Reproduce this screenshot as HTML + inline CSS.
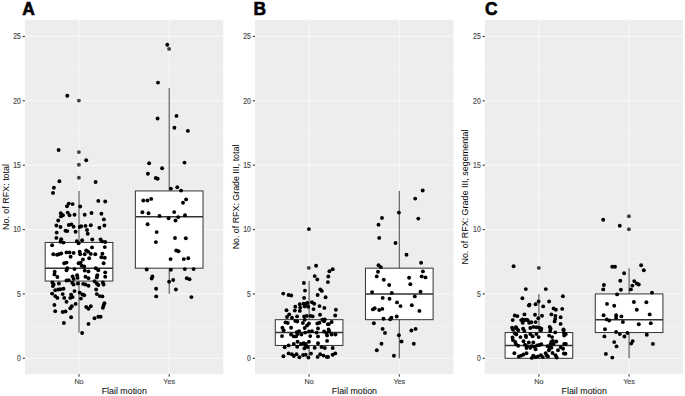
<!DOCTYPE html>
<html><head><meta charset="utf-8"><style>
html,body{margin:0;padding:0;background:#fff;width:685px;height:396px;overflow:hidden}
svg{display:block}
text{font-family:"Liberation Sans",sans-serif}
.tk{font-size:7.0px;fill:#4a4a4a;stroke:#4a4a4a;stroke-width:0.15px}
.ti{font-size:8.6px;fill:#000}
.lb{font-size:17.4px;font-weight:bold;fill:#000;stroke:#000;stroke-width:0.6px}
</style></head><body>
<svg width="685" height="396" viewBox="0 0 685 396">
<rect width="685" height="396" fill="#fff"/>
<rect x="24.90" y="19.9" width="198.4" height="354.20000000000005" fill="#EDEDED"/>
<line x1="24.90" x2="223.30" y1="326.11" y2="326.11" stroke="#fafafa" stroke-width="0.45"/>
<line x1="24.90" x2="223.30" y1="261.74" y2="261.74" stroke="#fafafa" stroke-width="0.45"/>
<line x1="24.90" x2="223.30" y1="197.36" y2="197.36" stroke="#fafafa" stroke-width="0.45"/>
<line x1="24.90" x2="223.30" y1="132.99" y2="132.99" stroke="#fafafa" stroke-width="0.45"/>
<line x1="24.90" x2="223.30" y1="68.61" y2="68.61" stroke="#fafafa" stroke-width="0.45"/>
<line x1="24.90" x2="223.30" y1="358.30" y2="358.30" stroke="#fafafa" stroke-width="0.9"/>
<line x1="24.90" x2="223.30" y1="293.93" y2="293.93" stroke="#fafafa" stroke-width="0.9"/>
<line x1="24.90" x2="223.30" y1="229.55" y2="229.55" stroke="#fafafa" stroke-width="0.9"/>
<line x1="24.90" x2="223.30" y1="165.18" y2="165.18" stroke="#fafafa" stroke-width="0.9"/>
<line x1="24.90" x2="223.30" y1="100.80" y2="100.80" stroke="#fafafa" stroke-width="0.9"/>
<line x1="24.90" x2="223.30" y1="36.43" y2="36.43" stroke="#fafafa" stroke-width="0.9"/>
<line x1="79.01" x2="79.01" y1="19.9" y2="374.1" stroke="#fafafa" stroke-width="0.9"/>
<line x1="169.19" x2="169.19" y1="19.9" y2="374.1" stroke="#fafafa" stroke-width="0.9"/>
<line x1="79.01" x2="79.01" y1="190.93" y2="242.43" stroke="#444" stroke-width="1.0"/>
<line x1="79.01" x2="79.01" y1="281.05" y2="332.55" stroke="#444" stroke-width="1.0"/>
<rect x="45.19" y="242.43" width="67.64" height="38.62" fill="#fff" stroke="#333" stroke-width="1.0"/>
<line x1="45.19" x2="112.83" y1="268.18" y2="268.18" stroke="#333" stroke-width="1.5"/>
<line x1="169.19" x2="169.19" y1="87.93" y2="190.93" stroke="#444" stroke-width="1.0"/>
<line x1="169.19" x2="169.19" y1="268.18" y2="293.93" stroke="#444" stroke-width="1.0"/>
<rect x="135.37" y="190.93" width="67.64" height="77.25" fill="#fff" stroke="#333" stroke-width="1.0"/>
<line x1="135.37" x2="203.01" y1="216.68" y2="216.68" stroke="#333" stroke-width="1.5"/>
<circle cx="78.9" cy="100.6" r="1.95" fill="#3d3d3d"/>
<circle cx="78.9" cy="152.1" r="1.95" fill="#3d3d3d"/>
<circle cx="78.9" cy="164.8" r="1.95" fill="#3d3d3d"/>
<circle cx="78.9" cy="177.7" r="1.95" fill="#3d3d3d"/>
<circle cx="169.1" cy="48.9" r="1.95" fill="#3d3d3d"/>
<circle cx="67.3" cy="95.8" r="1.95"/>
<circle cx="58.6" cy="150.0" r="1.95"/>
<circle cx="86.2" cy="160.2" r="1.95"/>
<circle cx="59.4" cy="181.2" r="1.95"/>
<circle cx="95.6" cy="182.0" r="1.95"/>
<circle cx="53.9" cy="187.7" r="1.95"/>
<circle cx="53.0" cy="192.9" r="1.95"/>
<circle cx="98.3" cy="200.9" r="1.95"/>
<circle cx="105.2" cy="201.5" r="1.95"/>
<circle cx="68.8" cy="203.6" r="1.95"/>
<circle cx="72.6" cy="204.1" r="1.95"/>
<circle cx="67.0" cy="206.2" r="1.95"/>
<circle cx="80.2" cy="206.5" r="1.95"/>
<circle cx="60.8" cy="213.3" r="1.95"/>
<circle cx="63.0" cy="215.3" r="1.95"/>
<circle cx="60.9" cy="216.4" r="1.95"/>
<circle cx="67.7" cy="212.6" r="1.95"/>
<circle cx="69.5" cy="215.3" r="1.95"/>
<circle cx="74.5" cy="214.7" r="1.95"/>
<circle cx="84.7" cy="214.7" r="1.95"/>
<circle cx="91.5" cy="213.0" r="1.95"/>
<circle cx="101.4" cy="213.8" r="1.95"/>
<circle cx="103.9" cy="219.4" r="1.95"/>
<circle cx="58.2" cy="220.5" r="1.95"/>
<circle cx="56.4" cy="225.5" r="1.95"/>
<circle cx="60.5" cy="227.0" r="1.95"/>
<circle cx="68.8" cy="225.0" r="1.95"/>
<circle cx="71.4" cy="224.4" r="1.95"/>
<circle cx="73.6" cy="226.7" r="1.95"/>
<circle cx="79.7" cy="227.0" r="1.95"/>
<circle cx="81.2" cy="226.2" r="1.95"/>
<circle cx="85.5" cy="225.9" r="1.95"/>
<circle cx="90.8" cy="225.2" r="1.95"/>
<circle cx="99.4" cy="227.7" r="1.95"/>
<circle cx="104.4" cy="225.5" r="1.95"/>
<circle cx="65.5" cy="230.8" r="1.95"/>
<circle cx="67.3" cy="231.1" r="1.95"/>
<circle cx="75.6" cy="231.8" r="1.95"/>
<circle cx="87.0" cy="230.0" r="1.95"/>
<circle cx="87.7" cy="233.8" r="1.95"/>
<circle cx="56.7" cy="232.6" r="1.95"/>
<circle cx="56.4" cy="237.9" r="1.95"/>
<circle cx="61.2" cy="239.2" r="1.95"/>
<circle cx="60.5" cy="241.7" r="1.95"/>
<circle cx="63.5" cy="242.6" r="1.95"/>
<circle cx="76.8" cy="241.1" r="1.95"/>
<circle cx="78.6" cy="243.2" r="1.95"/>
<circle cx="82.1" cy="240.3" r="1.95"/>
<circle cx="92.3" cy="239.5" r="1.95"/>
<circle cx="100.6" cy="239.5" r="1.95"/>
<circle cx="102.1" cy="241.4" r="1.95"/>
<circle cx="105.2" cy="242.0" r="1.95"/>
<circle cx="52.1" cy="245.2" r="1.95"/>
<circle cx="92.0" cy="247.4" r="1.95"/>
<circle cx="104.8" cy="247.1" r="1.95"/>
<circle cx="53.3" cy="254.2" r="1.95"/>
<circle cx="57.0" cy="254.7" r="1.95"/>
<circle cx="58.9" cy="254.2" r="1.95"/>
<circle cx="61.2" cy="253.5" r="1.95"/>
<circle cx="66.5" cy="252.4" r="1.95"/>
<circle cx="69.5" cy="252.4" r="1.95"/>
<circle cx="73.6" cy="252.9" r="1.95"/>
<circle cx="70.6" cy="256.8" r="1.95"/>
<circle cx="79.7" cy="251.7" r="1.95"/>
<circle cx="80.2" cy="254.2" r="1.95"/>
<circle cx="84.7" cy="254.2" r="1.95"/>
<circle cx="86.2" cy="250.5" r="1.95"/>
<circle cx="88.2" cy="251.7" r="1.95"/>
<circle cx="90.8" cy="253.9" r="1.95"/>
<circle cx="89.2" cy="258.3" r="1.95"/>
<circle cx="95.3" cy="254.2" r="1.95"/>
<circle cx="102.4" cy="253.8" r="1.95"/>
<circle cx="101.4" cy="257.3" r="1.95"/>
<circle cx="104.8" cy="257.7" r="1.95"/>
<circle cx="82.9" cy="259.5" r="1.95"/>
<circle cx="64.2" cy="263.3" r="1.95"/>
<circle cx="66.5" cy="262.6" r="1.95"/>
<circle cx="78.6" cy="263.3" r="1.95"/>
<circle cx="80.6" cy="262.6" r="1.95"/>
<circle cx="103.6" cy="263.3" r="1.95"/>
<circle cx="81.7" cy="265.8" r="1.95"/>
<circle cx="84.2" cy="266.4" r="1.95"/>
<circle cx="67.3" cy="268.3" r="1.95"/>
<circle cx="66.5" cy="270.3" r="1.95"/>
<circle cx="74.5" cy="269.1" r="1.95"/>
<circle cx="84.7" cy="270.6" r="1.95"/>
<circle cx="88.5" cy="271.4" r="1.95"/>
<circle cx="95.8" cy="268.3" r="1.95"/>
<circle cx="98.3" cy="270.3" r="1.95"/>
<circle cx="105.2" cy="272.4" r="1.95"/>
<circle cx="54.7" cy="271.8" r="1.95"/>
<circle cx="54.4" cy="274.4" r="1.95"/>
<circle cx="57.4" cy="277.0" r="1.95"/>
<circle cx="72.6" cy="276.4" r="1.95"/>
<circle cx="73.6" cy="278.9" r="1.95"/>
<circle cx="77.1" cy="275.2" r="1.95"/>
<circle cx="77.6" cy="277.9" r="1.95"/>
<circle cx="85.5" cy="276.7" r="1.95"/>
<circle cx="88.5" cy="278.2" r="1.95"/>
<circle cx="97.3" cy="275.2" r="1.95"/>
<circle cx="96.8" cy="277.4" r="1.95"/>
<circle cx="105.2" cy="276.7" r="1.95"/>
<circle cx="52.4" cy="282.4" r="1.95"/>
<circle cx="53.6" cy="284.5" r="1.95"/>
<circle cx="52.9" cy="286.1" r="1.95"/>
<circle cx="58.9" cy="283.5" r="1.95"/>
<circle cx="66.5" cy="280.5" r="1.95"/>
<circle cx="68.8" cy="280.2" r="1.95"/>
<circle cx="72.3" cy="282.7" r="1.95"/>
<circle cx="73.6" cy="284.5" r="1.95"/>
<circle cx="77.9" cy="283.5" r="1.95"/>
<circle cx="83.2" cy="283.9" r="1.95"/>
<circle cx="85.5" cy="284.5" r="1.95"/>
<circle cx="88.5" cy="285.8" r="1.95"/>
<circle cx="94.5" cy="281.2" r="1.95"/>
<circle cx="96.8" cy="283.5" r="1.95"/>
<circle cx="98.3" cy="285.0" r="1.95"/>
<circle cx="102.9" cy="282.4" r="1.95"/>
<circle cx="103.6" cy="284.5" r="1.95"/>
<circle cx="55.2" cy="290.3" r="1.95"/>
<circle cx="58.2" cy="289.5" r="1.95"/>
<circle cx="60.5" cy="289.2" r="1.95"/>
<circle cx="63.5" cy="288.8" r="1.95"/>
<circle cx="52.1" cy="293.6" r="1.95"/>
<circle cx="55.2" cy="296.1" r="1.95"/>
<circle cx="57.4" cy="297.9" r="1.95"/>
<circle cx="62.7" cy="294.1" r="1.95"/>
<circle cx="64.2" cy="297.9" r="1.95"/>
<circle cx="71.1" cy="294.8" r="1.95"/>
<circle cx="72.6" cy="297.1" r="1.95"/>
<circle cx="70.3" cy="297.9" r="1.95"/>
<circle cx="74.5" cy="291.1" r="1.95"/>
<circle cx="79.7" cy="292.6" r="1.95"/>
<circle cx="82.4" cy="294.5" r="1.95"/>
<circle cx="84.2" cy="295.3" r="1.95"/>
<circle cx="80.9" cy="298.6" r="1.95"/>
<circle cx="96.1" cy="289.5" r="1.95"/>
<circle cx="96.8" cy="294.1" r="1.95"/>
<circle cx="99.8" cy="296.1" r="1.95"/>
<circle cx="102.4" cy="296.4" r="1.95"/>
<circle cx="66.5" cy="301.7" r="1.95"/>
<circle cx="54.4" cy="305.0" r="1.95"/>
<circle cx="75.6" cy="303.9" r="1.95"/>
<circle cx="71.8" cy="306.2" r="1.95"/>
<circle cx="70.3" cy="308.2" r="1.95"/>
<circle cx="86.2" cy="307.0" r="1.95"/>
<circle cx="88.5" cy="308.8" r="1.95"/>
<circle cx="90.8" cy="306.2" r="1.95"/>
<circle cx="104.4" cy="303.2" r="1.95"/>
<circle cx="103.6" cy="305.5" r="1.95"/>
<circle cx="102.9" cy="307.7" r="1.95"/>
<circle cx="55.2" cy="311.2" r="1.95"/>
<circle cx="62.7" cy="312.0" r="1.95"/>
<circle cx="65.5" cy="311.5" r="1.95"/>
<circle cx="71.1" cy="317.3" r="1.95"/>
<circle cx="94.5" cy="318.3" r="1.95"/>
<circle cx="98.3" cy="316.8" r="1.95"/>
<circle cx="100.6" cy="316.8" r="1.95"/>
<circle cx="63.9" cy="323.0" r="1.95"/>
<circle cx="88.5" cy="323.9" r="1.95"/>
<circle cx="82.1" cy="333.0" r="1.95"/>
<circle cx="167.3" cy="44.7" r="1.95"/>
<circle cx="158.0" cy="82.6" r="1.95"/>
<circle cx="157.6" cy="118.5" r="1.95"/>
<circle cx="176.5" cy="115.9" r="1.95"/>
<circle cx="174.4" cy="127.7" r="1.95"/>
<circle cx="187.9" cy="130.9" r="1.95"/>
<circle cx="149.1" cy="163.3" r="1.95"/>
<circle cx="184.5" cy="162.6" r="1.95"/>
<circle cx="162.1" cy="168.2" r="1.95"/>
<circle cx="147.9" cy="173.8" r="1.95"/>
<circle cx="155.8" cy="178.0" r="1.95"/>
<circle cx="157.7" cy="178.8" r="1.95"/>
<circle cx="170.9" cy="188.6" r="1.95"/>
<circle cx="177.3" cy="187.3" r="1.95"/>
<circle cx="181.1" cy="190.6" r="1.95"/>
<circle cx="143.3" cy="200.5" r="1.95"/>
<circle cx="147.4" cy="200.5" r="1.95"/>
<circle cx="151.2" cy="198.9" r="1.95"/>
<circle cx="186.1" cy="199.4" r="1.95"/>
<circle cx="183.0" cy="202.7" r="1.95"/>
<circle cx="142.4" cy="212.3" r="1.95"/>
<circle cx="148.5" cy="213.3" r="1.95"/>
<circle cx="159.5" cy="215.9" r="1.95"/>
<circle cx="174.2" cy="212.1" r="1.95"/>
<circle cx="168.6" cy="218.3" r="1.95"/>
<circle cx="175.5" cy="220.5" r="1.95"/>
<circle cx="178.2" cy="217.1" r="1.95"/>
<circle cx="185.0" cy="215.3" r="1.95"/>
<circle cx="147.6" cy="224.2" r="1.95"/>
<circle cx="156.7" cy="232.1" r="1.95"/>
<circle cx="175.0" cy="238.0" r="1.95"/>
<circle cx="185.8" cy="238.3" r="1.95"/>
<circle cx="155.9" cy="242.1" r="1.95"/>
<circle cx="176.2" cy="250.5" r="1.95"/>
<circle cx="178.5" cy="251.2" r="1.95"/>
<circle cx="170.6" cy="259.1" r="1.95"/>
<circle cx="183.8" cy="259.1" r="1.95"/>
<circle cx="188.3" cy="258.3" r="1.95"/>
<circle cx="146.7" cy="269.5" r="1.95"/>
<circle cx="170.9" cy="269.8" r="1.95"/>
<circle cx="184.8" cy="269.1" r="1.95"/>
<circle cx="193.6" cy="269.1" r="1.95"/>
<circle cx="152.4" cy="276.4" r="1.95"/>
<circle cx="151.7" cy="278.5" r="1.95"/>
<circle cx="169.1" cy="281.7" r="1.95"/>
<circle cx="173.2" cy="280.0" r="1.95"/>
<circle cx="186.8" cy="278.2" r="1.95"/>
<circle cx="189.5" cy="279.2" r="1.95"/>
<circle cx="156.1" cy="288.8" r="1.95"/>
<circle cx="175.9" cy="289.5" r="1.95"/>
<circle cx="156.2" cy="296.4" r="1.95"/>
<circle cx="191.4" cy="297.1" r="1.95"/>
<line x1="22.70" x2="24.90" y1="358.30" y2="358.30" stroke="#333" stroke-width="1.1"/>
<text transform="translate(20.80,361.10) scale(0.98,1.24)" class="tk" text-anchor="end">0</text>
<line x1="22.70" x2="24.90" y1="293.93" y2="293.93" stroke="#333" stroke-width="1.1"/>
<text transform="translate(20.80,296.73) scale(0.98,1.24)" class="tk" text-anchor="end">5</text>
<line x1="22.70" x2="24.90" y1="229.55" y2="229.55" stroke="#333" stroke-width="1.1"/>
<text transform="translate(20.80,232.35) scale(0.98,1.24)" class="tk" text-anchor="end">10</text>
<line x1="22.70" x2="24.90" y1="165.18" y2="165.18" stroke="#333" stroke-width="1.1"/>
<text transform="translate(20.80,167.98) scale(0.98,1.24)" class="tk" text-anchor="end">15</text>
<line x1="22.70" x2="24.90" y1="100.80" y2="100.80" stroke="#333" stroke-width="1.1"/>
<text transform="translate(20.80,103.60) scale(0.98,1.24)" class="tk" text-anchor="end">20</text>
<line x1="22.70" x2="24.90" y1="36.43" y2="36.43" stroke="#333" stroke-width="1.1"/>
<text transform="translate(20.80,39.23) scale(0.98,1.24)" class="tk" text-anchor="end">25</text>
<line x1="79.01" x2="79.01" y1="374.1" y2="376.70000000000005" stroke="#333" stroke-width="1.0"/>
<text transform="translate(79.01,383.6) scale(1.03,1.1)" class="tk" text-anchor="middle">No</text>
<line x1="169.19" x2="169.19" y1="374.1" y2="376.70000000000005" stroke="#333" stroke-width="1.0"/>
<text transform="translate(169.19,383.6) scale(1.03,1.1)" class="tk" text-anchor="middle">Yes</text>
<text transform="translate(124.30,394.2) scale(1.03,1.08)" class="ti" text-anchor="middle">Flail motion</text>
<text transform="translate(8.90,197.00) rotate(-90) scale(1.04,1)" class="ti" text-anchor="middle">No. of RFX: total</text>
<text transform="translate(22.20,14.8) scale(1.0,1.07)" class="lb">A</text>
<rect x="255.00" y="19.9" width="198.4" height="354.20000000000005" fill="#EDEDED"/>
<line x1="255.00" x2="453.40" y1="326.11" y2="326.11" stroke="#fafafa" stroke-width="0.45"/>
<line x1="255.00" x2="453.40" y1="261.74" y2="261.74" stroke="#fafafa" stroke-width="0.45"/>
<line x1="255.00" x2="453.40" y1="197.36" y2="197.36" stroke="#fafafa" stroke-width="0.45"/>
<line x1="255.00" x2="453.40" y1="132.99" y2="132.99" stroke="#fafafa" stroke-width="0.45"/>
<line x1="255.00" x2="453.40" y1="68.61" y2="68.61" stroke="#fafafa" stroke-width="0.45"/>
<line x1="255.00" x2="453.40" y1="358.30" y2="358.30" stroke="#fafafa" stroke-width="0.9"/>
<line x1="255.00" x2="453.40" y1="293.93" y2="293.93" stroke="#fafafa" stroke-width="0.9"/>
<line x1="255.00" x2="453.40" y1="229.55" y2="229.55" stroke="#fafafa" stroke-width="0.9"/>
<line x1="255.00" x2="453.40" y1="165.18" y2="165.18" stroke="#fafafa" stroke-width="0.9"/>
<line x1="255.00" x2="453.40" y1="100.80" y2="100.80" stroke="#fafafa" stroke-width="0.9"/>
<line x1="255.00" x2="453.40" y1="36.43" y2="36.43" stroke="#fafafa" stroke-width="0.9"/>
<line x1="309.11" x2="309.11" y1="19.9" y2="374.1" stroke="#fafafa" stroke-width="0.9"/>
<line x1="399.29" x2="399.29" y1="19.9" y2="374.1" stroke="#fafafa" stroke-width="0.9"/>
<line x1="309.11" x2="309.11" y1="281.05" y2="319.68" stroke="#444" stroke-width="1.0"/>
<line x1="309.11" x2="309.11" y1="345.43" y2="358.30" stroke="#444" stroke-width="1.0"/>
<rect x="275.29" y="319.68" width="67.64" height="25.75" fill="#fff" stroke="#333" stroke-width="1.0"/>
<line x1="275.29" x2="342.93" y1="332.55" y2="332.55" stroke="#333" stroke-width="1.5"/>
<line x1="399.29" x2="399.29" y1="190.93" y2="268.18" stroke="#444" stroke-width="1.0"/>
<line x1="399.29" x2="399.29" y1="319.68" y2="358.30" stroke="#444" stroke-width="1.0"/>
<rect x="365.47" y="268.18" width="67.64" height="51.50" fill="#fff" stroke="#333" stroke-width="1.0"/>
<line x1="365.47" x2="433.11" y1="293.93" y2="293.93" stroke="#333" stroke-width="1.5"/>
<circle cx="308.8" cy="267.9" r="1.95" fill="#3d3d3d"/>
<circle cx="308.9" cy="229.1" r="1.95"/>
<circle cx="316.1" cy="265.8" r="1.95"/>
<circle cx="329.4" cy="271.2" r="1.95"/>
<circle cx="332.7" cy="269.2" r="1.95"/>
<circle cx="314.7" cy="276.1" r="1.95"/>
<circle cx="317.3" cy="279.5" r="1.95"/>
<circle cx="328.3" cy="276.5" r="1.95"/>
<circle cx="327.9" cy="282.1" r="1.95"/>
<circle cx="303.9" cy="283.0" r="1.95"/>
<circle cx="305.0" cy="290.6" r="1.95"/>
<circle cx="320.3" cy="289.4" r="1.95"/>
<circle cx="321.8" cy="290.9" r="1.95"/>
<circle cx="283.2" cy="293.6" r="1.95"/>
<circle cx="288.5" cy="295.0" r="1.95"/>
<circle cx="291.2" cy="295.5" r="1.95"/>
<circle cx="317.6" cy="295.0" r="1.95"/>
<circle cx="325.6" cy="297.3" r="1.95"/>
<circle cx="304.1" cy="297.9" r="1.95"/>
<circle cx="312.0" cy="302.3" r="1.95"/>
<circle cx="314.2" cy="303.8" r="1.95"/>
<circle cx="299.8" cy="304.2" r="1.95"/>
<circle cx="303.6" cy="303.8" r="1.95"/>
<circle cx="305.9" cy="303.8" r="1.95"/>
<circle cx="307.4" cy="303.0" r="1.95"/>
<circle cx="295.3" cy="306.8" r="1.95"/>
<circle cx="294.8" cy="310.6" r="1.95"/>
<circle cx="300.2" cy="307.6" r="1.95"/>
<circle cx="299.8" cy="310.9" r="1.95"/>
<circle cx="304.7" cy="306.4" r="1.95"/>
<circle cx="308.2" cy="306.8" r="1.95"/>
<circle cx="313.5" cy="309.1" r="1.95"/>
<circle cx="319.5" cy="306.1" r="1.95"/>
<circle cx="324.4" cy="307.9" r="1.95"/>
<circle cx="286.5" cy="310.3" r="1.95"/>
<circle cx="335.9" cy="309.8" r="1.95"/>
<circle cx="335.2" cy="315.5" r="1.95"/>
<circle cx="289.2" cy="314.4" r="1.95"/>
<circle cx="287.0" cy="317.0" r="1.95"/>
<circle cx="297.1" cy="316.4" r="1.95"/>
<circle cx="304.1" cy="316.4" r="1.95"/>
<circle cx="306.7" cy="315.9" r="1.95"/>
<circle cx="310.5" cy="315.9" r="1.95"/>
<circle cx="312.7" cy="316.4" r="1.95"/>
<circle cx="320.0" cy="314.8" r="1.95"/>
<circle cx="285.5" cy="322.4" r="1.95"/>
<circle cx="287.7" cy="323.0" r="1.95"/>
<circle cx="295.3" cy="320.9" r="1.95"/>
<circle cx="297.3" cy="321.5" r="1.95"/>
<circle cx="302.9" cy="323.0" r="1.95"/>
<circle cx="304.7" cy="319.7" r="1.95"/>
<circle cx="308.9" cy="323.5" r="1.95"/>
<circle cx="317.3" cy="323.5" r="1.95"/>
<circle cx="319.5" cy="322.7" r="1.95"/>
<circle cx="322.3" cy="319.7" r="1.95"/>
<circle cx="324.1" cy="321.2" r="1.95"/>
<circle cx="327.9" cy="324.2" r="1.95"/>
<circle cx="331.7" cy="322.0" r="1.95"/>
<circle cx="282.4" cy="327.7" r="1.95"/>
<circle cx="283.6" cy="330.3" r="1.95"/>
<circle cx="291.1" cy="327.7" r="1.95"/>
<circle cx="304.7" cy="328.0" r="1.95"/>
<circle cx="307.1" cy="325.5" r="1.95"/>
<circle cx="318.0" cy="328.5" r="1.95"/>
<circle cx="328.6" cy="329.5" r="1.95"/>
<circle cx="296.8" cy="332.3" r="1.95"/>
<circle cx="299.1" cy="331.1" r="1.95"/>
<circle cx="301.4" cy="334.5" r="1.95"/>
<circle cx="297.6" cy="334.1" r="1.95"/>
<circle cx="305.2" cy="332.6" r="1.95"/>
<circle cx="308.9" cy="331.5" r="1.95"/>
<circle cx="312.0" cy="331.1" r="1.95"/>
<circle cx="291.1" cy="334.5" r="1.95"/>
<circle cx="293.8" cy="336.4" r="1.95"/>
<circle cx="296.1" cy="336.4" r="1.95"/>
<circle cx="310.2" cy="336.1" r="1.95"/>
<circle cx="316.5" cy="332.6" r="1.95"/>
<circle cx="318.0" cy="336.4" r="1.95"/>
<circle cx="324.1" cy="331.5" r="1.95"/>
<circle cx="326.4" cy="333.0" r="1.95"/>
<circle cx="327.1" cy="335.6" r="1.95"/>
<circle cx="329.4" cy="331.8" r="1.95"/>
<circle cx="331.7" cy="334.5" r="1.95"/>
<circle cx="335.5" cy="334.5" r="1.95"/>
<circle cx="282.0" cy="336.1" r="1.95"/>
<circle cx="297.6" cy="341.7" r="1.95"/>
<circle cx="300.9" cy="343.9" r="1.95"/>
<circle cx="303.6" cy="343.2" r="1.95"/>
<circle cx="305.9" cy="343.9" r="1.95"/>
<circle cx="308.9" cy="341.7" r="1.95"/>
<circle cx="318.0" cy="343.2" r="1.95"/>
<circle cx="327.1" cy="340.9" r="1.95"/>
<circle cx="293.8" cy="343.9" r="1.95"/>
<circle cx="284.7" cy="347.3" r="1.95"/>
<circle cx="288.6" cy="345.4" r="1.95"/>
<circle cx="297.2" cy="346.7" r="1.95"/>
<circle cx="304.4" cy="348.4" r="1.95"/>
<circle cx="305.7" cy="346.4" r="1.95"/>
<circle cx="307.7" cy="347.1" r="1.95"/>
<circle cx="314.7" cy="347.7" r="1.95"/>
<circle cx="321.5" cy="347.1" r="1.95"/>
<circle cx="324.8" cy="348.0" r="1.95"/>
<circle cx="332.7" cy="348.0" r="1.95"/>
<circle cx="283.4" cy="356.3" r="1.95"/>
<circle cx="288.6" cy="353.4" r="1.95"/>
<circle cx="291.9" cy="354.3" r="1.95"/>
<circle cx="293.9" cy="356.0" r="1.95"/>
<circle cx="296.5" cy="354.3" r="1.95"/>
<circle cx="299.4" cy="357.2" r="1.95"/>
<circle cx="303.1" cy="355.0" r="1.95"/>
<circle cx="305.7" cy="354.7" r="1.95"/>
<circle cx="308.4" cy="357.6" r="1.95"/>
<circle cx="311.0" cy="353.6" r="1.95"/>
<circle cx="317.6" cy="356.9" r="1.95"/>
<circle cx="320.2" cy="354.3" r="1.95"/>
<circle cx="323.5" cy="355.6" r="1.95"/>
<circle cx="326.8" cy="356.9" r="1.95"/>
<circle cx="328.1" cy="356.9" r="1.95"/>
<circle cx="332.7" cy="354.7" r="1.95"/>
<circle cx="335.3" cy="353.4" r="1.95"/>
<circle cx="422.7" cy="190.5" r="1.95"/>
<circle cx="415.2" cy="198.6" r="1.95"/>
<circle cx="398.9" cy="212.6" r="1.95"/>
<circle cx="382.0" cy="217.9" r="1.95"/>
<circle cx="418.3" cy="218.6" r="1.95"/>
<circle cx="378.5" cy="224.7" r="1.95"/>
<circle cx="379.2" cy="237.9" r="1.95"/>
<circle cx="395.5" cy="243.0" r="1.95"/>
<circle cx="406.5" cy="254.8" r="1.95"/>
<circle cx="421.1" cy="262.7" r="1.95"/>
<circle cx="378.5" cy="265.3" r="1.95"/>
<circle cx="380.8" cy="267.1" r="1.95"/>
<circle cx="378.0" cy="271.8" r="1.95"/>
<circle cx="376.7" cy="276.4" r="1.95"/>
<circle cx="383.8" cy="279.8" r="1.95"/>
<circle cx="389.2" cy="285.0" r="1.95"/>
<circle cx="409.1" cy="277.7" r="1.95"/>
<circle cx="410.3" cy="284.2" r="1.95"/>
<circle cx="422.9" cy="271.4" r="1.95"/>
<circle cx="421.7" cy="276.4" r="1.95"/>
<circle cx="425.5" cy="277.4" r="1.95"/>
<circle cx="372.1" cy="292.1" r="1.95"/>
<circle cx="391.8" cy="292.9" r="1.95"/>
<circle cx="420.5" cy="291.8" r="1.95"/>
<circle cx="382.7" cy="297.9" r="1.95"/>
<circle cx="389.5" cy="298.8" r="1.95"/>
<circle cx="414.8" cy="296.4" r="1.95"/>
<circle cx="397.0" cy="302.4" r="1.95"/>
<circle cx="400.5" cy="306.1" r="1.95"/>
<circle cx="411.8" cy="305.2" r="1.95"/>
<circle cx="372.9" cy="309.4" r="1.95"/>
<circle cx="374.7" cy="308.2" r="1.95"/>
<circle cx="379.2" cy="310.0" r="1.95"/>
<circle cx="382.3" cy="308.9" r="1.95"/>
<circle cx="419.4" cy="310.9" r="1.95"/>
<circle cx="383.5" cy="318.8" r="1.95"/>
<circle cx="390.2" cy="319.2" r="1.95"/>
<circle cx="391.4" cy="317.7" r="1.95"/>
<circle cx="396.7" cy="316.5" r="1.95"/>
<circle cx="373.9" cy="323.3" r="1.95"/>
<circle cx="382.6" cy="328.9" r="1.95"/>
<circle cx="385.0" cy="332.9" r="1.95"/>
<circle cx="398.9" cy="335.2" r="1.95"/>
<circle cx="411.4" cy="330.5" r="1.95"/>
<circle cx="415.6" cy="328.9" r="1.95"/>
<circle cx="401.5" cy="341.5" r="1.95"/>
<circle cx="381.5" cy="343.8" r="1.95"/>
<circle cx="413.8" cy="343.8" r="1.95"/>
<circle cx="376.8" cy="350.3" r="1.95"/>
<circle cx="393.9" cy="355.8" r="1.95"/>
<circle cx="292.0" cy="317.8" r="1.95"/>
<circle cx="324.8" cy="319.5" r="1.95"/>
<circle cx="328.9" cy="324.1" r="1.95"/>
<line x1="252.80" x2="255.00" y1="358.30" y2="358.30" stroke="#333" stroke-width="1.1"/>
<text transform="translate(250.90,361.10) scale(0.98,1.24)" class="tk" text-anchor="end">0</text>
<line x1="252.80" x2="255.00" y1="293.93" y2="293.93" stroke="#333" stroke-width="1.1"/>
<text transform="translate(250.90,296.73) scale(0.98,1.24)" class="tk" text-anchor="end">5</text>
<line x1="252.80" x2="255.00" y1="229.55" y2="229.55" stroke="#333" stroke-width="1.1"/>
<text transform="translate(250.90,232.35) scale(0.98,1.24)" class="tk" text-anchor="end">10</text>
<line x1="252.80" x2="255.00" y1="165.18" y2="165.18" stroke="#333" stroke-width="1.1"/>
<text transform="translate(250.90,167.98) scale(0.98,1.24)" class="tk" text-anchor="end">15</text>
<line x1="252.80" x2="255.00" y1="100.80" y2="100.80" stroke="#333" stroke-width="1.1"/>
<text transform="translate(250.90,103.60) scale(0.98,1.24)" class="tk" text-anchor="end">20</text>
<line x1="252.80" x2="255.00" y1="36.43" y2="36.43" stroke="#333" stroke-width="1.1"/>
<text transform="translate(250.90,39.23) scale(0.98,1.24)" class="tk" text-anchor="end">25</text>
<line x1="309.11" x2="309.11" y1="374.1" y2="376.70000000000005" stroke="#333" stroke-width="1.0"/>
<text transform="translate(309.11,383.6) scale(1.03,1.1)" class="tk" text-anchor="middle">No</text>
<line x1="399.29" x2="399.29" y1="374.1" y2="376.70000000000005" stroke="#333" stroke-width="1.0"/>
<text transform="translate(399.29,383.6) scale(1.03,1.1)" class="tk" text-anchor="middle">Yes</text>
<text transform="translate(354.40,394.2) scale(1.03,1.08)" class="ti" text-anchor="middle">Flail motion</text>
<text transform="translate(238.60,197.00) rotate(-90) scale(1.03,1)" class="ti" text-anchor="middle">No. of RFX: Grade III, total</text>
<text transform="translate(253.60,14.8) scale(1.0,1.07)" class="lb">B</text>
<rect x="484.80" y="19.9" width="198.4" height="354.20000000000005" fill="#EDEDED"/>
<line x1="484.80" x2="683.20" y1="326.11" y2="326.11" stroke="#fafafa" stroke-width="0.45"/>
<line x1="484.80" x2="683.20" y1="261.74" y2="261.74" stroke="#fafafa" stroke-width="0.45"/>
<line x1="484.80" x2="683.20" y1="197.36" y2="197.36" stroke="#fafafa" stroke-width="0.45"/>
<line x1="484.80" x2="683.20" y1="132.99" y2="132.99" stroke="#fafafa" stroke-width="0.45"/>
<line x1="484.80" x2="683.20" y1="68.61" y2="68.61" stroke="#fafafa" stroke-width="0.45"/>
<line x1="484.80" x2="683.20" y1="358.30" y2="358.30" stroke="#fafafa" stroke-width="0.9"/>
<line x1="484.80" x2="683.20" y1="293.93" y2="293.93" stroke="#fafafa" stroke-width="0.9"/>
<line x1="484.80" x2="683.20" y1="229.55" y2="229.55" stroke="#fafafa" stroke-width="0.9"/>
<line x1="484.80" x2="683.20" y1="165.18" y2="165.18" stroke="#fafafa" stroke-width="0.9"/>
<line x1="484.80" x2="683.20" y1="100.80" y2="100.80" stroke="#fafafa" stroke-width="0.9"/>
<line x1="484.80" x2="683.20" y1="36.43" y2="36.43" stroke="#fafafa" stroke-width="0.9"/>
<line x1="538.91" x2="538.91" y1="19.9" y2="374.1" stroke="#fafafa" stroke-width="0.9"/>
<line x1="629.09" x2="629.09" y1="19.9" y2="374.1" stroke="#fafafa" stroke-width="0.9"/>
<line x1="538.91" x2="538.91" y1="293.93" y2="332.55" stroke="#444" stroke-width="1.0"/>
<line x1="538.91" x2="538.91" y1="358.30" y2="358.30" stroke="#444" stroke-width="1.0"/>
<rect x="505.09" y="332.55" width="67.64" height="25.75" fill="#fff" stroke="#333" stroke-width="1.0"/>
<line x1="505.09" x2="572.73" y1="345.43" y2="345.43" stroke="#333" stroke-width="1.5"/>
<line x1="629.09" x2="629.09" y1="268.18" y2="293.93" stroke="#444" stroke-width="1.0"/>
<line x1="629.09" x2="629.09" y1="332.55" y2="358.30" stroke="#444" stroke-width="1.0"/>
<rect x="595.27" y="293.93" width="67.64" height="38.62" fill="#fff" stroke="#333" stroke-width="1.0"/>
<line x1="595.27" x2="662.91" y1="319.68" y2="319.68" stroke="#333" stroke-width="1.5"/>
<circle cx="538.8" cy="267.9" r="1.95" fill="#3d3d3d"/>
<circle cx="628.9" cy="216.2" r="1.95" fill="#3d3d3d"/>
<circle cx="628.9" cy="229.2" r="1.95" fill="#3d3d3d"/>
<circle cx="513.6" cy="266.2" r="1.95"/>
<circle cx="525.8" cy="289.1" r="1.95"/>
<circle cx="545.8" cy="289.1" r="1.95"/>
<circle cx="522.4" cy="298.2" r="1.95"/>
<circle cx="562.9" cy="296.2" r="1.95"/>
<circle cx="529.5" cy="304.8" r="1.95"/>
<circle cx="535.6" cy="304.2" r="1.95"/>
<circle cx="538.6" cy="301.5" r="1.95"/>
<circle cx="549.1" cy="301.5" r="1.95"/>
<circle cx="528.9" cy="305.5" r="1.95"/>
<circle cx="543.2" cy="306.4" r="1.95"/>
<circle cx="514.8" cy="315.5" r="1.95"/>
<circle cx="517.4" cy="316.1" r="1.95"/>
<circle cx="524.4" cy="314.4" r="1.95"/>
<circle cx="535.0" cy="314.8" r="1.95"/>
<circle cx="542.0" cy="315.8" r="1.95"/>
<circle cx="538.3" cy="318.2" r="1.95"/>
<circle cx="512.7" cy="320.1" r="1.95"/>
<circle cx="521.2" cy="320.1" r="1.95"/>
<circle cx="522.7" cy="319.5" r="1.95"/>
<circle cx="524.2" cy="320.1" r="1.95"/>
<circle cx="526.1" cy="319.8" r="1.95"/>
<circle cx="527.7" cy="320.3" r="1.95"/>
<circle cx="522.7" cy="322.7" r="1.95"/>
<circle cx="529.2" cy="322.7" r="1.95"/>
<circle cx="531.4" cy="322.3" r="1.95"/>
<circle cx="535.6" cy="322.1" r="1.95"/>
<circle cx="512.1" cy="327.7" r="1.95"/>
<circle cx="515.9" cy="327.3" r="1.95"/>
<circle cx="523.1" cy="328.8" r="1.95"/>
<circle cx="530.3" cy="328.0" r="1.95"/>
<circle cx="533.3" cy="326.9" r="1.95"/>
<circle cx="536.4" cy="327.3" r="1.95"/>
<circle cx="539.4" cy="327.7" r="1.95"/>
<circle cx="541.3" cy="328.8" r="1.95"/>
<circle cx="553.6" cy="308.5" r="1.95"/>
<circle cx="555.9" cy="309.8" r="1.95"/>
<circle cx="562.2" cy="308.9" r="1.95"/>
<circle cx="551.4" cy="314.4" r="1.95"/>
<circle cx="555.4" cy="315.9" r="1.95"/>
<circle cx="555.2" cy="318.9" r="1.95"/>
<circle cx="554.6" cy="321.4" r="1.95"/>
<circle cx="560.6" cy="317.3" r="1.95"/>
<circle cx="560.6" cy="323.9" r="1.95"/>
<circle cx="549.7" cy="326.9" r="1.95"/>
<circle cx="550.6" cy="328.8" r="1.95"/>
<circle cx="563.5" cy="329.5" r="1.95"/>
<circle cx="518.2" cy="330.3" r="1.95"/>
<circle cx="540.9" cy="330.3" r="1.95"/>
<circle cx="514.8" cy="333.3" r="1.95"/>
<circle cx="516.3" cy="334.4" r="1.95"/>
<circle cx="512.5" cy="337.5" r="1.95"/>
<circle cx="520.5" cy="337.1" r="1.95"/>
<circle cx="525.8" cy="335.6" r="1.95"/>
<circle cx="526.1" cy="337.1" r="1.95"/>
<circle cx="530.3" cy="334.1" r="1.95"/>
<circle cx="532.6" cy="336.3" r="1.95"/>
<circle cx="536.4" cy="334.1" r="1.95"/>
<circle cx="538.6" cy="337.1" r="1.95"/>
<circle cx="512.9" cy="340.1" r="1.95"/>
<circle cx="515.2" cy="342.0" r="1.95"/>
<circle cx="523.5" cy="341.3" r="1.95"/>
<circle cx="515.9" cy="343.9" r="1.95"/>
<circle cx="518.2" cy="345.8" r="1.95"/>
<circle cx="525.0" cy="344.7" r="1.95"/>
<circle cx="526.9" cy="346.2" r="1.95"/>
<circle cx="528.8" cy="342.4" r="1.95"/>
<circle cx="533.3" cy="342.4" r="1.95"/>
<circle cx="530.3" cy="347.7" r="1.95"/>
<circle cx="531.8" cy="346.2" r="1.95"/>
<circle cx="534.8" cy="346.9" r="1.95"/>
<circle cx="537.1" cy="345.4" r="1.95"/>
<circle cx="539.4" cy="345.0" r="1.95"/>
<circle cx="541.3" cy="344.3" r="1.95"/>
<circle cx="526.5" cy="348.1" r="1.95"/>
<circle cx="535.6" cy="349.2" r="1.95"/>
<circle cx="550.2" cy="331.0" r="1.95"/>
<circle cx="555.2" cy="332.4" r="1.95"/>
<circle cx="563.6" cy="330.3" r="1.95"/>
<circle cx="564.2" cy="333.3" r="1.95"/>
<circle cx="565.8" cy="334.1" r="1.95"/>
<circle cx="564.2" cy="335.6" r="1.95"/>
<circle cx="549.1" cy="335.6" r="1.95"/>
<circle cx="552.1" cy="337.1" r="1.95"/>
<circle cx="551.4" cy="341.6" r="1.95"/>
<circle cx="552.9" cy="340.9" r="1.95"/>
<circle cx="556.3" cy="341.5" r="1.95"/>
<circle cx="550.6" cy="343.9" r="1.95"/>
<circle cx="553.6" cy="343.9" r="1.95"/>
<circle cx="564.2" cy="343.9" r="1.95"/>
<circle cx="565.8" cy="343.9" r="1.95"/>
<circle cx="547.6" cy="346.2" r="1.95"/>
<circle cx="549.5" cy="347.3" r="1.95"/>
<circle cx="551.4" cy="347.7" r="1.95"/>
<circle cx="560.8" cy="347.3" r="1.95"/>
<circle cx="563.1" cy="348.8" r="1.95"/>
<circle cx="514.4" cy="353.2" r="1.95"/>
<circle cx="518.9" cy="356.4" r="1.95"/>
<circle cx="521.2" cy="355.6" r="1.95"/>
<circle cx="523.5" cy="354.5" r="1.95"/>
<circle cx="526.5" cy="353.2" r="1.95"/>
<circle cx="531.8" cy="357.9" r="1.95"/>
<circle cx="533.3" cy="355.6" r="1.95"/>
<circle cx="535.6" cy="357.1" r="1.95"/>
<circle cx="537.9" cy="356.4" r="1.95"/>
<circle cx="540.9" cy="355.2" r="1.95"/>
<circle cx="542.8" cy="357.1" r="1.95"/>
<circle cx="548.9" cy="350.3" r="1.95"/>
<circle cx="558.0" cy="350.2" r="1.95"/>
<circle cx="552.5" cy="353.0" r="1.95"/>
<circle cx="563.9" cy="353.5" r="1.95"/>
<circle cx="565.4" cy="353.7" r="1.95"/>
<circle cx="545.7" cy="353.3" r="1.95"/>
<circle cx="546.8" cy="355.6" r="1.95"/>
<circle cx="548.0" cy="356.4" r="1.95"/>
<circle cx="555.5" cy="355.2" r="1.95"/>
<circle cx="556.7" cy="357.5" r="1.95"/>
<circle cx="603.2" cy="219.7" r="1.95"/>
<circle cx="619.8" cy="225.8" r="1.95"/>
<circle cx="612.3" cy="266.7" r="1.95"/>
<circle cx="615.0" cy="266.8" r="1.95"/>
<circle cx="641.1" cy="265.2" r="1.95"/>
<circle cx="643.8" cy="270.2" r="1.95"/>
<circle cx="624.1" cy="273.2" r="1.95"/>
<circle cx="620.3" cy="280.8" r="1.95"/>
<circle cx="634.2" cy="281.1" r="1.95"/>
<circle cx="636.8" cy="283.5" r="1.95"/>
<circle cx="638.8" cy="284.5" r="1.95"/>
<circle cx="632.4" cy="285.6" r="1.95"/>
<circle cx="603.9" cy="285.0" r="1.95"/>
<circle cx="603.2" cy="289.4" r="1.95"/>
<circle cx="620.9" cy="289.8" r="1.95"/>
<circle cx="630.9" cy="289.4" r="1.95"/>
<circle cx="617.1" cy="294.4" r="1.95"/>
<circle cx="652.0" cy="292.6" r="1.95"/>
<circle cx="607.0" cy="303.9" r="1.95"/>
<circle cx="614.2" cy="305.8" r="1.95"/>
<circle cx="633.9" cy="302.0" r="1.95"/>
<circle cx="646.4" cy="302.3" r="1.95"/>
<circle cx="636.8" cy="309.8" r="1.95"/>
<circle cx="603.6" cy="315.2" r="1.95"/>
<circle cx="616.1" cy="315.3" r="1.95"/>
<circle cx="616.1" cy="317.9" r="1.95"/>
<circle cx="621.4" cy="316.4" r="1.95"/>
<circle cx="649.7" cy="314.4" r="1.95"/>
<circle cx="606.7" cy="319.4" r="1.95"/>
<circle cx="609.2" cy="320.5" r="1.95"/>
<circle cx="622.9" cy="322.0" r="1.95"/>
<circle cx="638.8" cy="324.2" r="1.95"/>
<circle cx="650.8" cy="323.2" r="1.95"/>
<circle cx="605.0" cy="329.2" r="1.95"/>
<circle cx="616.1" cy="332.0" r="1.95"/>
<circle cx="619.8" cy="334.1" r="1.95"/>
<circle cx="624.4" cy="336.5" r="1.95"/>
<circle cx="627.4" cy="333.0" r="1.95"/>
<circle cx="604.4" cy="336.4" r="1.95"/>
<circle cx="646.8" cy="334.8" r="1.95"/>
<circle cx="614.2" cy="342.1" r="1.95"/>
<circle cx="616.5" cy="346.4" r="1.95"/>
<circle cx="632.7" cy="341.1" r="1.95"/>
<circle cx="631.2" cy="343.6" r="1.95"/>
<circle cx="652.9" cy="343.9" r="1.95"/>
<circle cx="605.9" cy="353.9" r="1.95"/>
<circle cx="612.3" cy="357.6" r="1.95"/>
<circle cx="516.5" cy="328.3" r="1.95"/>
<circle cx="513.0" cy="329.8" r="1.95"/>
<circle cx="524.3" cy="331.0" r="1.95"/>
<line x1="482.60" x2="484.80" y1="358.30" y2="358.30" stroke="#333" stroke-width="1.1"/>
<text transform="translate(480.70,361.10) scale(0.98,1.24)" class="tk" text-anchor="end">0</text>
<line x1="482.60" x2="484.80" y1="293.93" y2="293.93" stroke="#333" stroke-width="1.1"/>
<text transform="translate(480.70,296.73) scale(0.98,1.24)" class="tk" text-anchor="end">5</text>
<line x1="482.60" x2="484.80" y1="229.55" y2="229.55" stroke="#333" stroke-width="1.1"/>
<text transform="translate(480.70,232.35) scale(0.98,1.24)" class="tk" text-anchor="end">10</text>
<line x1="482.60" x2="484.80" y1="165.18" y2="165.18" stroke="#333" stroke-width="1.1"/>
<text transform="translate(480.70,167.98) scale(0.98,1.24)" class="tk" text-anchor="end">15</text>
<line x1="482.60" x2="484.80" y1="100.80" y2="100.80" stroke="#333" stroke-width="1.1"/>
<text transform="translate(480.70,103.60) scale(0.98,1.24)" class="tk" text-anchor="end">20</text>
<line x1="482.60" x2="484.80" y1="36.43" y2="36.43" stroke="#333" stroke-width="1.1"/>
<text transform="translate(480.70,39.23) scale(0.98,1.24)" class="tk" text-anchor="end">25</text>
<line x1="538.91" x2="538.91" y1="374.1" y2="376.70000000000005" stroke="#333" stroke-width="1.0"/>
<text transform="translate(538.91,383.6) scale(1.03,1.1)" class="tk" text-anchor="middle">No</text>
<line x1="629.09" x2="629.09" y1="374.1" y2="376.70000000000005" stroke="#333" stroke-width="1.0"/>
<text transform="translate(629.09,383.6) scale(1.03,1.1)" class="tk" text-anchor="middle">Yes</text>
<text transform="translate(584.20,394.2) scale(1.03,1.08)" class="ti" text-anchor="middle">Flail motion</text>
<text transform="translate(467.50,197.00) rotate(-90) scale(1.04,1)" class="ti" text-anchor="middle">No. of RFX: Grade III, segemental</text>
<text transform="translate(485.00,14.8) scale(1.0,1.07)" class="lb">C</text>
</svg>
</body></html>
